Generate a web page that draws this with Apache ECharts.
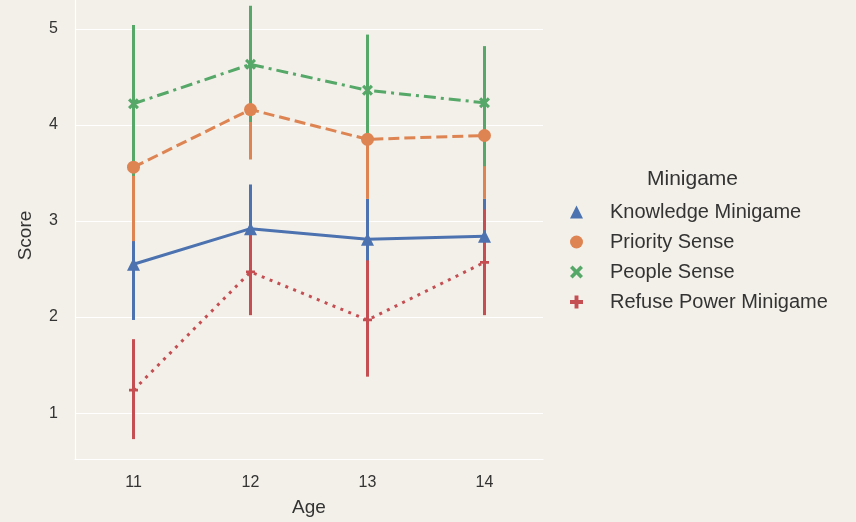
<!DOCTYPE html>
<html><head><meta charset="utf-8">
<script src="https://cdn.jsdelivr.net/npm/echarts@6/dist/echarts.min.js"></script>
<style>html,body{margin:0;padding:0;background:#f3f0e9;overflow:hidden;width:856px;height:522px;}#c{position:absolute;left:0;top:-10px;width:856px;height:532px;}</style>
</head><body><div id="c"></div>
<script>
const ages = ['11', '12', '13', '14'];
const seriesNames = ['Knowledge Minigame', 'Priority Sense', 'People Sense', 'Refuse Power Minigame'];
const knowledgeMean = [2.55, 2.92, 2.81, 2.84];
const knowledgeLow  = [1.97, 2.45, 2.40, 2.45];
const knowledgeHigh = [3.12, 3.38, 3.23, 3.23];
const priorityMean = [3.56, 4.16, 3.85, 3.89];
const priorityLow  = [2.79, 3.64, 3.23, 3.23];
const priorityHigh = [4.33, 4.68, 4.47, 4.50];
const peopleMean = [4.22, 4.63, 4.36, 4.23];
const peopleLow  = [3.47, 4.03, 3.88, 3.57];
const peopleHigh = [5.04, 5.24, 4.94, 4.82];
const refuseMean = [1.24, 2.47, 1.97, 2.57];
const refuseLow  = [0.73, 2.02, 1.38, 2.02];
const refuseHigh = [1.77, 2.89, 2.59, 3.12];

const colors = ['#4c72b0', '#dd8452', '#55a868', '#c44e52'];
const xPath = 'path://M0,2 L2,0 L5,3 L8,0 L10,2 L7,5 L10,8 L8,10 L5,7 L2,10 L0,8 L3,5 Z';
const plusPath = 'path://M3.5,0 H6.5 V3.5 H10 V6.5 H6.5 V10 H3.5 V6.5 H0 V3.5 H3.5 Z';
const symbols = ['triangle', 'circle', xPath, plusPath];
const symbolSizes = [13, 13, 11, 9];
const lineTypes = ['solid', [11, 5], [12, 5, 3, 5], [3, 5.5]];
const means = [knowledgeMean, priorityMean, peopleMean, refuseMean];
const lows = [knowledgeLow, priorityLow, peopleLow, refuseLow];
const highs = [knowledgeHigh, priorityHigh, peopleHigh, refuseHigh];

const series = [];
seriesNames.forEach((name, k) => {
  series.push({
    name: name, type: 'line', data: means[k],
    symbol: symbols[k], symbolSize: symbolSizes[k], showAllSymbol: true,
    itemStyle: {color: colors[k]},
    lineStyle: {color: colors[k], width: 3, type: lineTypes[k]},
    emphasis: {disabled: true}, animation: false
  });
  series.push({
    name: name, type: 'custom', animation: false,
    data: ages.map((a, i) => [i, lows[k][i], highs[k][i]]),
    encode: {x: 0, y: [1, 2]},
    renderItem: function (params, api) {
      const i = api.value(0);
      const p1 = api.coord([i, api.value(1)]);
      const p2 = api.coord([i, api.value(2)]);
      return {type: 'line', shape: {x1: p1[0], y1: p1[1], x2: p2[0], y2: p2[1]},
              style: {stroke: colors[k], lineWidth: 3}};
    }
  });
});

const font = 'Liberation Sans';
const chart = echarts.init(document.getElementById('c'), null, {renderer: 'canvas'});
chart.setOption({
  backgroundColor: '#f3f0e9',
  animation: false,
  title: {text: 'Minigame', left: 642, top: 174,
          textStyle: {fontFamily: font, fontSize: 21, fontWeight: 'normal', color: '#333333'}},
  legend: {
    orient: 'vertical', left: 565, top: 207, itemWidth: 13, itemHeight: 13, itemGap: 10,
    selectedMode: false,
    data: seriesNames.map((n, k) => ({name: n, icon: symbols[k], itemStyle: {color: colors[k]}})),
    textStyle: {fontFamily: font, fontSize: 20, color: '#333333', lineHeight: 20, padding: [0, 0, 0, 22]}
  },
  grid: {left: 75, right: 313, top: 0, bottom: 61, containLabel: false},
  xAxis: {
    type: 'category', data: ages, boundaryGap: true, name: 'Age', nameLocation: 'middle', nameGap: 39,
    nameTextStyle: {fontFamily: font, fontSize: 19, color: '#333333'},
    axisLine: {show: true, lineStyle: {color: '#ffffff', width: 1.2}},
    axisTick: {show: false},
    axisLabel: {fontFamily: font, fontSize: 16, color: '#333333', margin: 16},
    splitLine: {show: false}
  },
  yAxis: {
    type: 'value', min: 0.523, max: 5.404, name: 'Score', nameLocation: 'middle', nameGap: 40,
    nameTextStyle: {fontFamily: font, fontSize: 19, color: '#333333', padding: [0, 22, 0, 0]},
    axisLine: {show: true, lineStyle: {color: '#ffffff', width: 1.2}},
    axisTick: {show: false},
    axisLabel: {fontFamily: font, fontSize: 16, color: '#333333', margin: 17, showMinLabel: false, showMaxLabel: false,
                formatter: v => (Math.abs(v - Math.round(v)) < 1e-6 ? String(Math.round(v)) : '')},
    splitLine: {show: true, lineStyle: {color: '#ffffff', width: 1.2}}
  },
  series: series
});
</script></body></html>
